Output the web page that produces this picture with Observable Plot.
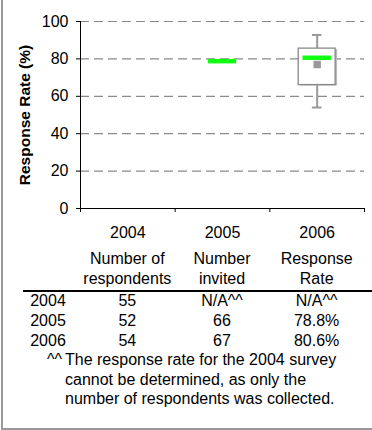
<!DOCTYPE html>
<html>
<head>
<meta charset="utf-8">
<script src="https://cdn.jsdelivr.net/npm/d3@7"></script>
<script src="https://cdn.jsdelivr.net/npm/@observablehq/plot@0.6"></script>
<style>
  html, body { margin: 0; padding: 0; background: #fff; }
  #wrap { position: relative; width: 372px; height: 430px; overflow: hidden;
          font-family: "Liberation Sans", Arial, sans-serif; color: #000; }
  #frame { position: absolute; left: 1px; top: 0; width: 371px; height: 430px;
           border-left: 2px solid #999; border-bottom: 2px solid #999; box-sizing: border-box; }
  .t { position: absolute; font-size: 16px; line-height: 16px; white-space: nowrap; }
  .c { transform: translate(-50%, -50%); text-align: center; }
  .l { transform: translate(0, -50%); }
  .r { transform: translate(-100%, -50%); }
  #rule { position: absolute; left: 23px; width: 349px; height: 2px; background: #000; }
  svg { position: absolute; left: 0; top: 0; }
</style>
</head>
<body>
<div id="wrap"><div id="frame"></div></div>
<script>
// ---- data ----
const years = ["2004", "2005", "2006"];
const medians = [null, 78.8, 80.6];          // response rate line (green)
const boxYears = ["2006"];
const boxMin = [54];
const boxQ1 = [66];
const boxQ3 = [85.5];
const boxMax = [92.8];
const boxMean = [77];
const yTicks = [0, 20, 40, 60, 80, 100];
const headers = ["Number of\nrespondents", "Number\ninvited", "Response\nRate"];
const respondents = ["55", "52", "54"];
const invited = ["N/A^^", "66", "67"];
const rates = ["N/A^^", "78.8%", "80.6%"];
const footMark = "^^";
const footLines = [
  "The response rate for the 2004 survey",
  "cannot be determined, as only the",
  "number of respondents was collected."
];

// ---- chart ----
const idx = y => years.indexOf(y) + 0.5;
const medData = years.map((y, i) => ({year: y, v: medians[i]})).filter(d => d.v != null);
const boxData = boxYears.map((y, i) => ({year: y, min: boxMin[i], q1: boxQ1[i], q3: boxQ3[i], max: boxMax[i], mean: boxMean[i]}));
const bw = 0.195, mw = 0.15, cw = 0.05;
const gray = "#999";

const chart = Plot.plot({
  width: 372, height: 240,
  marginTop: 21, marginBottom: 32, marginLeft: 80, marginRight: 8,
  style: {fontFamily: "Liberation Sans, Arial, sans-serif", fontSize: "16px", color: "#000", background: "transparent", overflow: "visible"},
  x: {domain: [0, 3], axis: null},
  y: {domain: [0, 100], axis: null},
  marks: [
    Plot.ruleY(yTicks.filter(t => t > 0), {stroke: "#8a8a8a", strokeWidth: 1.2, strokeDasharray: "9,5"}),
    // whiskers
    Plot.ruleX(boxData, {x: d => idx(d.year), y1: "q3", y2: "max", stroke: gray, strokeWidth: 2}),
    Plot.ruleX(boxData, {x: d => idx(d.year), y1: "min", y2: "q1", stroke: gray, strokeWidth: 2}),
    Plot.ruleY(boxData, {y: "max", x1: d => idx(d.year) - cw, x2: d => idx(d.year) + cw, stroke: gray, strokeWidth: 2}),
    Plot.ruleY(boxData, {y: "min", x1: d => idx(d.year) - cw, x2: d => idx(d.year) + cw, stroke: gray, strokeWidth: 2}),
    // box shadow + box
    Plot.rect(boxData, {x1: d => idx(d.year) - bw, x2: d => idx(d.year) + bw, y1: "q1", y2: "q3", fill: "#bbb", dx: 2, dy: 1}),
    Plot.rect(boxData, {x1: d => idx(d.year) - bw, x2: d => idx(d.year) + bw, y1: "q1", y2: "q3", fill: "#fff", stroke: "#888", strokeWidth: 1.3}),
    // mean
    Plot.dot(boxData, {x: d => idx(d.year), y: "mean", symbol: "square", r: 4.2, fill: gray}),
    // median / response rate
    Plot.ruleY(medData, {y: "v", x1: d => idx(d.year) - mw, x2: d => idx(d.year) + mw, stroke: "#11ff11", strokeWidth: 4.5}),
    // axes
    Plot.axisY({ticks: yTicks, tickSize: 4, tickPadding: 8, label: null, tickFormat: d => String(d)}),
    Plot.ruleX([0], {y1: 0, y2: 100, stroke: "#000"}),
    Plot.ruleY([0], {stroke: "#000"}),
    Plot.axisX({ticks: [0, 1, 2, 3], tickSize: 4, tickFormat: () => "", label: null}),
    Plot.axisX({ticks: years.map((y, i) => i + 0.5), tickSize: 0, tickPadding: 18, label: null, tickFormat: d => years[Math.round(d - 0.5)]}),
    Plot.text(["Response Rate (%)"], {frameAnchor: "left", dx: -55, rotate: -90, textAnchor: "middle", fontWeight: "bold", fontSize: 15.5})
  ]
});
const wrap = document.getElementById("wrap");
wrap.appendChild(chart);

// ---- table ----
const xs = chart.scale("x");
const colX = years.map((y, i) => xs.apply(i + 0.5));
function addText(txt, x, y, cls) {
  const d = document.createElement("div");
  d.className = "t " + cls;
  d.style.left = x + "px";
  d.style.top = y + "px";
  d.innerHTML = txt.split("\n").map(s => s.replace(/&/g, "&amp;")).join("<br>");
  if (txt.includes("\n")) { d.style.lineHeight = "20px"; }
  wrap.appendChild(d);
  return d;
}
const headY = 269, ruleY = 291, rowY0 = 301, rowStep = 20, footY0 = 360, footStep = 19.5;
headers.forEach((h, i) => addText(h, colX[i], headY, "c"));
const rule = document.createElement("div");
rule.id = "rule"; rule.style.top = (ruleY - 1) + "px";
wrap.appendChild(rule);
years.forEach((y, i) => {
  const yy = rowY0 + i * rowStep;
  addText(y, 48, yy, "c");
  addText(respondents[i], colX[0], yy, "c");
  addText(invited[i], colX[1], yy, "c");
  addText(rates[i], colX[2], yy, "c");
});
addText(footMark, 62, footY0, "r");
footLines.forEach((s, i) => addText(s, 65, footY0 + i * footStep, "l"));
</script>
</body>
</html>
